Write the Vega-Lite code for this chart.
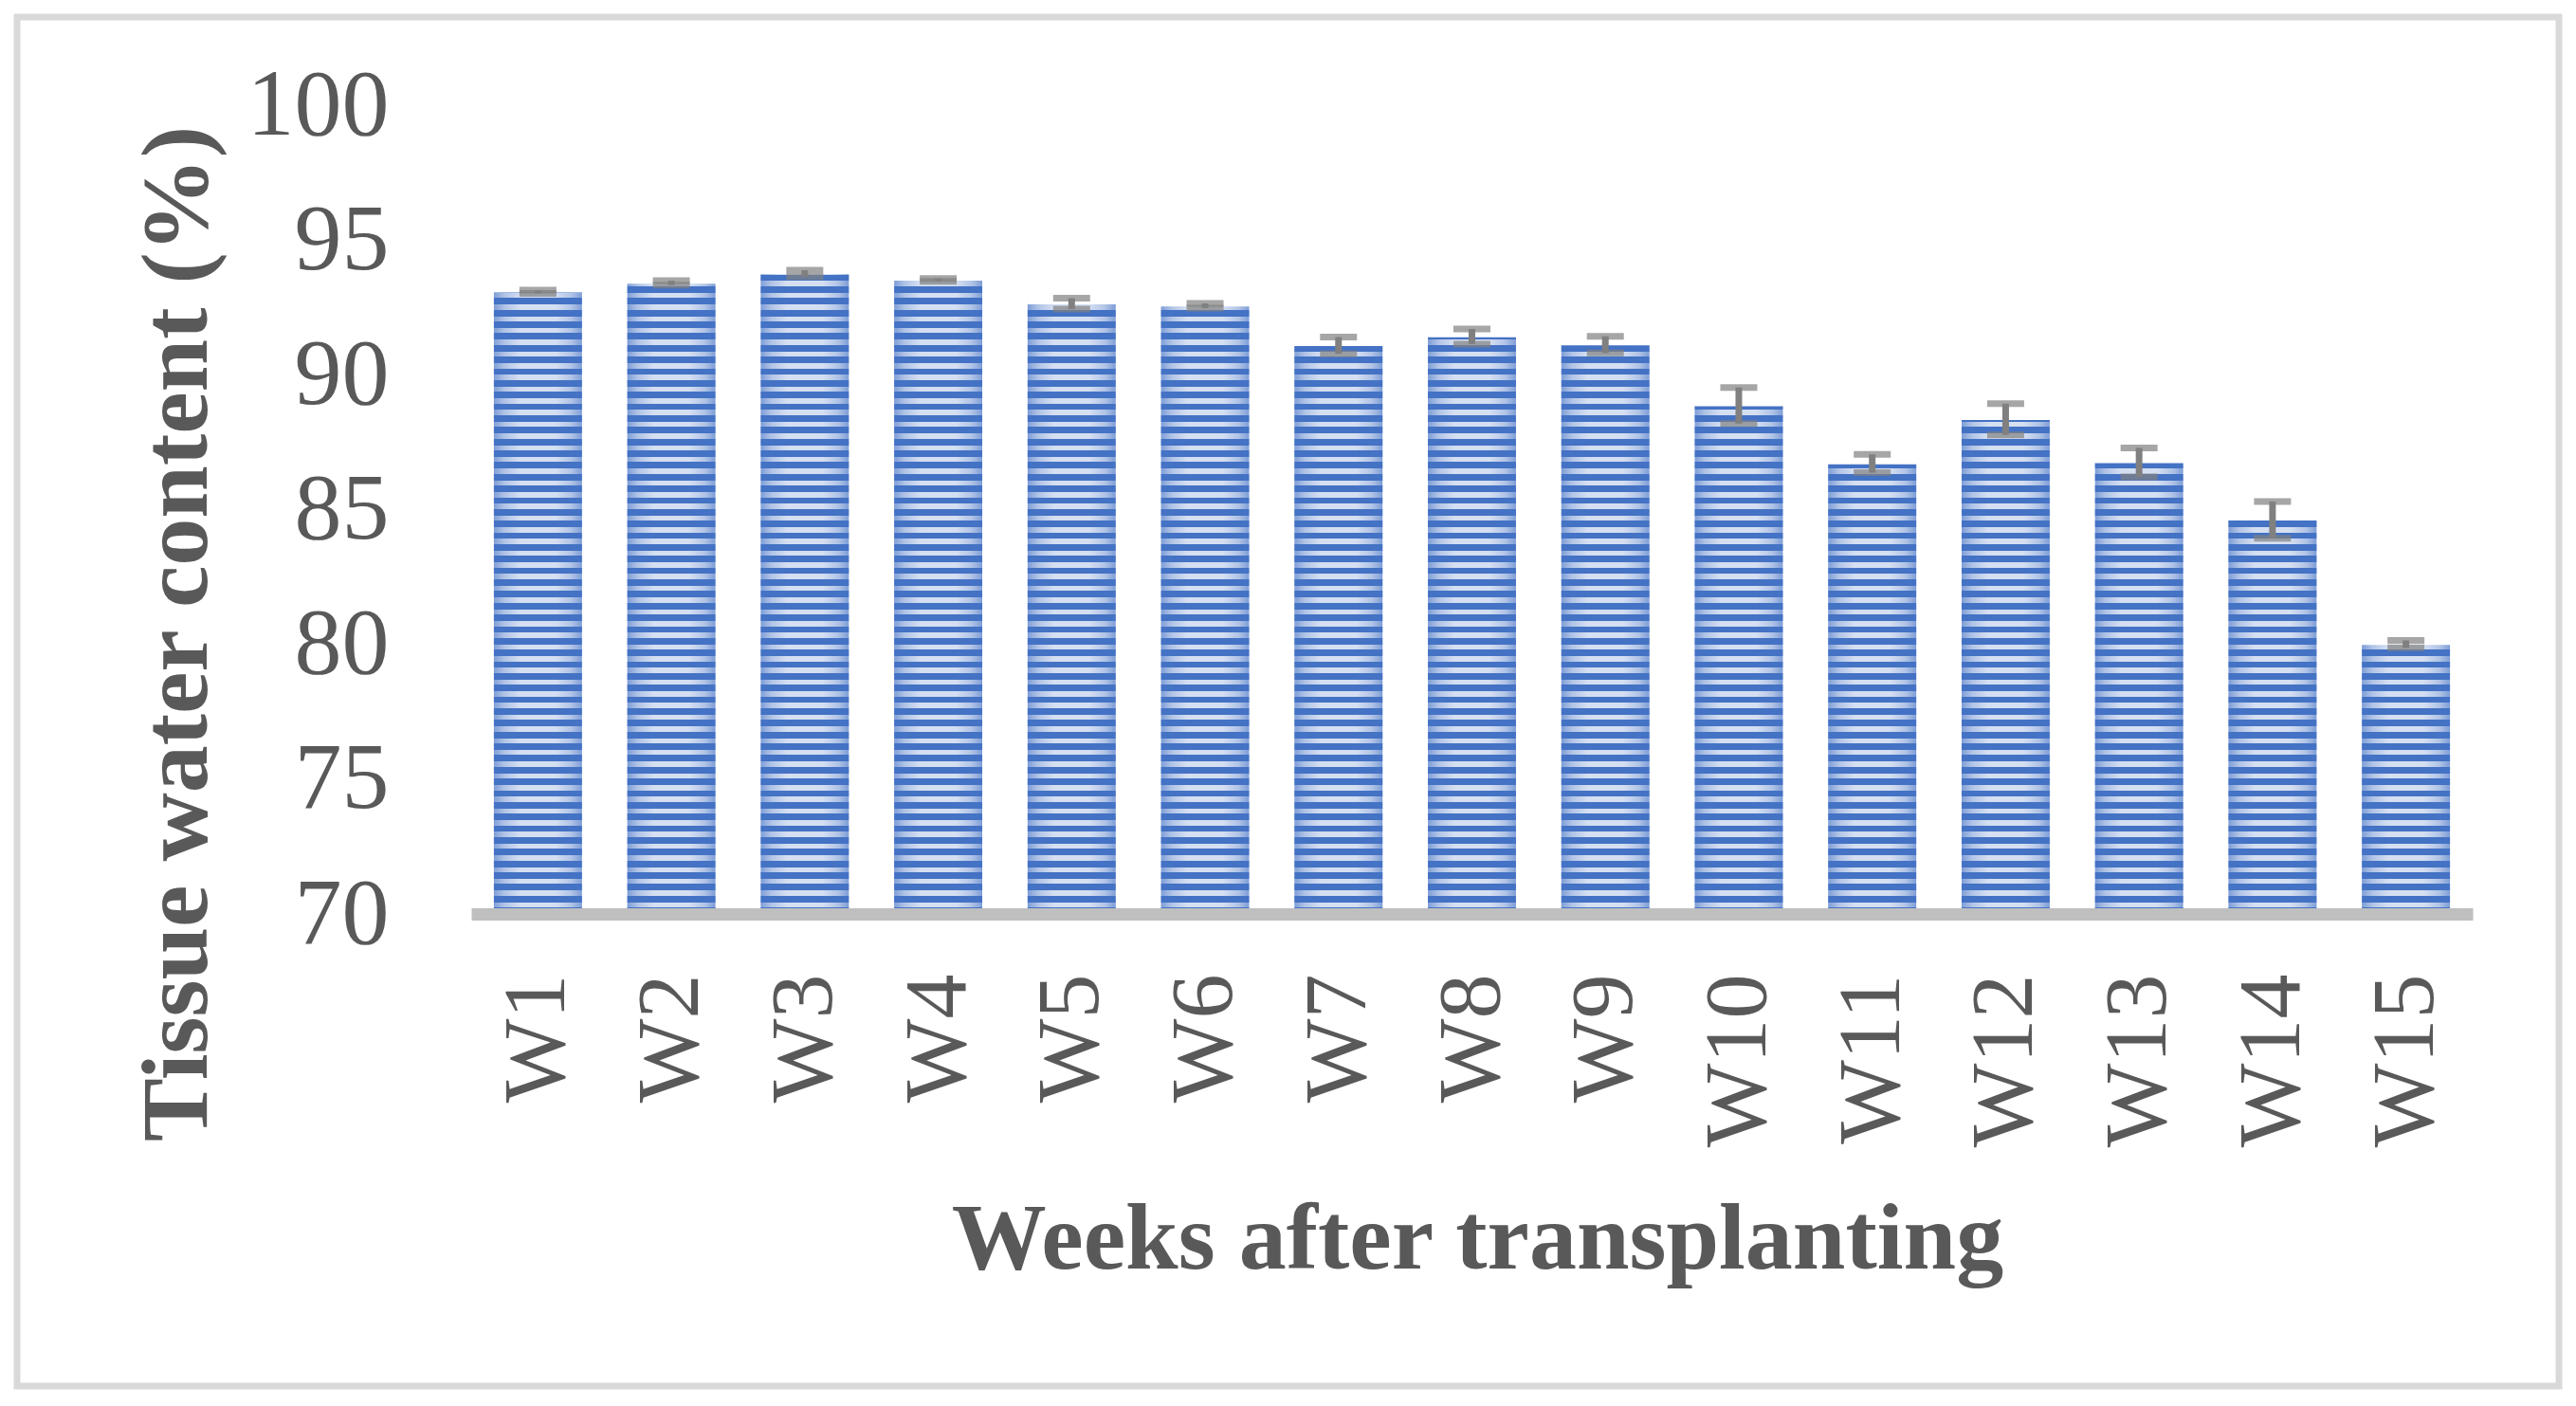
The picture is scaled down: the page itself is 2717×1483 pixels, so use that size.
{
  "$schema": "https://vega.github.io/schema/vega-lite/v6.json",
  "width": 2681,
  "height": 1444,
  "autosize": {"type": "none"},
  "padding": {"left": 18, "top": 18, "right": 18, "bottom": 21},
  "background": "white",
  "config": {
    "font": "Liberation Serif",
    "view": {"stroke": "#d9d9d9", "strokeWidth": 7}
  },
  "data": {
    "values": [
      {"week": "W1", "value": 93.08, "low": 93.02, "high": 93.14},
      {"week": "W2", "value": 93.41, "low": 93.33, "high": 93.49},
      {"week": "W3", "value": 93.76, "low": 93.64, "high": 93.88},
      {"week": "W4", "value": 93.52, "low": 93.47, "high": 93.57},
      {"week": "W5", "value": 92.64, "low": 92.44, "high": 92.84},
      {"week": "W6", "value": 92.56, "low": 92.47, "high": 92.65},
      {"week": "W7", "value": 91.09, "low": 90.78, "high": 91.40},
      {"week": "W8", "value": 91.42, "low": 91.14, "high": 91.70},
      {"week": "W9", "value": 91.12, "low": 90.81, "high": 91.43},
      {"week": "W10", "value": 88.86, "low": 88.19, "high": 89.53},
      {"week": "W11", "value": 86.71, "low": 86.37, "high": 87.05},
      {"week": "W12", "value": 88.35, "low": 87.77, "high": 88.93},
      {"week": "W13", "value": 86.75, "low": 86.21, "high": 87.29},
      {"week": "W14", "value": 84.62, "low": 83.94, "high": 85.30},
      {"week": "W15", "value": 80.01, "low": 79.87, "high": 80.15}
    ]
  },
  "encoding": {
    "x": {
      "field": "week",
      "type": "nominal",
      "sort": null,
      "scale": {"range": [479, 2590], "paddingInner": 0.34, "paddingOuter": 0.17},
      "axis": {
        "orient": "bottom",
        "offset": -498,
        "zindex": 1,
        "domain": true,
        "domainColor": "#bfbfbf",
        "domainWidth": 13,
        "ticks": false,
        "grid": false,
        "labelAngle": -90,
        "labelAlign": "right",
        "labelBaseline": "middle",
        "labelFont": "Liberation Serif",
        "labelFontSize": 94,
        "labelColor": "#595959",
        "labelPadding": 63,
        "labelLimit": 0,
        "labelOverlap": false,
        "title": "Weeks after transplanting",
        "titleFont": "Liberation Serif",
        "titleFontSize": 100,
        "titleFontWeight": "bold",
        "titleColor": "#595959",
        "titleBaseline": "alphabetic",
        "titleAlign": "center",
        "titleX": 1540,
        "titleY": 373
      }
    }
  },
  "layer": [
    {
      "mark": {
        "type": "bar",
        "color": {
          "gradient": "linear", "x1": 0, "y1": 0, "x2": 0, "y2": 1,
          "stops": [
            {"offset": 0, "color": "#d5dff2"}, {"offset": 0.006522, "color": "#d5dff2"}, {"offset": 0.006522, "color": "#4472c4"}, {"offset": 0.014493, "color": "#4472c4"},
            {"offset": 0.014493, "color": "#d5dff2"}, {"offset": 0.021015, "color": "#d5dff2"}, {"offset": 0.021015, "color": "#4472c4"}, {"offset": 0.028986, "color": "#4472c4"},
            {"offset": 0.028986, "color": "#d5dff2"}, {"offset": 0.035508, "color": "#d5dff2"}, {"offset": 0.035508, "color": "#4472c4"}, {"offset": 0.043478, "color": "#4472c4"},
            {"offset": 0.043478, "color": "#d5dff2"}, {"offset": 0.05, "color": "#d5dff2"}, {"offset": 0.05, "color": "#4472c4"}, {"offset": 0.057971, "color": "#4472c4"},
            {"offset": 0.057971, "color": "#d5dff2"}, {"offset": 0.064493, "color": "#d5dff2"}, {"offset": 0.064493, "color": "#4472c4"}, {"offset": 0.072464, "color": "#4472c4"},
            {"offset": 0.072464, "color": "#d5dff2"}, {"offset": 0.078986, "color": "#d5dff2"}, {"offset": 0.078986, "color": "#4472c4"}, {"offset": 0.086957, "color": "#4472c4"},
            {"offset": 0.086957, "color": "#d5dff2"}, {"offset": 0.093479, "color": "#d5dff2"}, {"offset": 0.093479, "color": "#4472c4"}, {"offset": 0.101449, "color": "#4472c4"},
            {"offset": 0.101449, "color": "#d5dff2"}, {"offset": 0.107971, "color": "#d5dff2"}, {"offset": 0.107971, "color": "#4472c4"}, {"offset": 0.115942, "color": "#4472c4"},
            {"offset": 0.115942, "color": "#d5dff2"}, {"offset": 0.122464, "color": "#d5dff2"}, {"offset": 0.122464, "color": "#4472c4"}, {"offset": 0.130435, "color": "#4472c4"},
            {"offset": 0.130435, "color": "#d5dff2"}, {"offset": 0.136957, "color": "#d5dff2"}, {"offset": 0.136957, "color": "#4472c4"}, {"offset": 0.144928, "color": "#4472c4"},
            {"offset": 0.144928, "color": "#d5dff2"}, {"offset": 0.15145, "color": "#d5dff2"}, {"offset": 0.15145, "color": "#4472c4"}, {"offset": 0.15942, "color": "#4472c4"},
            {"offset": 0.15942, "color": "#d5dff2"}, {"offset": 0.165942, "color": "#d5dff2"}, {"offset": 0.165942, "color": "#4472c4"}, {"offset": 0.173913, "color": "#4472c4"},
            {"offset": 0.173913, "color": "#d5dff2"}, {"offset": 0.180435, "color": "#d5dff2"}, {"offset": 0.180435, "color": "#4472c4"}, {"offset": 0.188406, "color": "#4472c4"},
            {"offset": 0.188406, "color": "#d5dff2"}, {"offset": 0.194928, "color": "#d5dff2"}, {"offset": 0.194928, "color": "#4472c4"}, {"offset": 0.202899, "color": "#4472c4"},
            {"offset": 0.202899, "color": "#d5dff2"}, {"offset": 0.209421, "color": "#d5dff2"}, {"offset": 0.209421, "color": "#4472c4"}, {"offset": 0.217391, "color": "#4472c4"},
            {"offset": 0.217391, "color": "#d5dff2"}, {"offset": 0.223913, "color": "#d5dff2"}, {"offset": 0.223913, "color": "#4472c4"}, {"offset": 0.231884, "color": "#4472c4"},
            {"offset": 0.231884, "color": "#d5dff2"}, {"offset": 0.238406, "color": "#d5dff2"}, {"offset": 0.238406, "color": "#4472c4"}, {"offset": 0.246377, "color": "#4472c4"},
            {"offset": 0.246377, "color": "#d5dff2"}, {"offset": 0.252899, "color": "#d5dff2"}, {"offset": 0.252899, "color": "#4472c4"}, {"offset": 0.26087, "color": "#4472c4"},
            {"offset": 0.26087, "color": "#d5dff2"}, {"offset": 0.267392, "color": "#d5dff2"}, {"offset": 0.267392, "color": "#4472c4"}, {"offset": 0.275362, "color": "#4472c4"},
            {"offset": 0.275362, "color": "#d5dff2"}, {"offset": 0.281884, "color": "#d5dff2"}, {"offset": 0.281884, "color": "#4472c4"}, {"offset": 0.289855, "color": "#4472c4"},
            {"offset": 0.289855, "color": "#d5dff2"}, {"offset": 0.296377, "color": "#d5dff2"}, {"offset": 0.296377, "color": "#4472c4"}, {"offset": 0.304348, "color": "#4472c4"},
            {"offset": 0.304348, "color": "#d5dff2"}, {"offset": 0.31087, "color": "#d5dff2"}, {"offset": 0.31087, "color": "#4472c4"}, {"offset": 0.318841, "color": "#4472c4"},
            {"offset": 0.318841, "color": "#d5dff2"}, {"offset": 0.325363, "color": "#d5dff2"}, {"offset": 0.325363, "color": "#4472c4"}, {"offset": 0.333333, "color": "#4472c4"},
            {"offset": 0.333333, "color": "#d5dff2"}, {"offset": 0.339855, "color": "#d5dff2"}, {"offset": 0.339855, "color": "#4472c4"}, {"offset": 0.347826, "color": "#4472c4"},
            {"offset": 0.347826, "color": "#d5dff2"}, {"offset": 0.354348, "color": "#d5dff2"}, {"offset": 0.354348, "color": "#4472c4"}, {"offset": 0.362319, "color": "#4472c4"},
            {"offset": 0.362319, "color": "#d5dff2"}, {"offset": 0.368841, "color": "#d5dff2"}, {"offset": 0.368841, "color": "#4472c4"}, {"offset": 0.376812, "color": "#4472c4"},
            {"offset": 0.376812, "color": "#d5dff2"}, {"offset": 0.383334, "color": "#d5dff2"}, {"offset": 0.383334, "color": "#4472c4"}, {"offset": 0.391304, "color": "#4472c4"},
            {"offset": 0.391304, "color": "#d5dff2"}, {"offset": 0.397826, "color": "#d5dff2"}, {"offset": 0.397826, "color": "#4472c4"}, {"offset": 0.405797, "color": "#4472c4"},
            {"offset": 0.405797, "color": "#d5dff2"}, {"offset": 0.412319, "color": "#d5dff2"}, {"offset": 0.412319, "color": "#4472c4"}, {"offset": 0.42029, "color": "#4472c4"},
            {"offset": 0.42029, "color": "#d5dff2"}, {"offset": 0.426812, "color": "#d5dff2"}, {"offset": 0.426812, "color": "#4472c4"}, {"offset": 0.434783, "color": "#4472c4"},
            {"offset": 0.434783, "color": "#d5dff2"}, {"offset": 0.441305, "color": "#d5dff2"}, {"offset": 0.441305, "color": "#4472c4"}, {"offset": 0.449275, "color": "#4472c4"},
            {"offset": 0.449275, "color": "#d5dff2"}, {"offset": 0.455797, "color": "#d5dff2"}, {"offset": 0.455797, "color": "#4472c4"}, {"offset": 0.463768, "color": "#4472c4"},
            {"offset": 0.463768, "color": "#d5dff2"}, {"offset": 0.47029, "color": "#d5dff2"}, {"offset": 0.47029, "color": "#4472c4"}, {"offset": 0.478261, "color": "#4472c4"},
            {"offset": 0.478261, "color": "#d5dff2"}, {"offset": 0.484783, "color": "#d5dff2"}, {"offset": 0.484783, "color": "#4472c4"}, {"offset": 0.492754, "color": "#4472c4"},
            {"offset": 0.492754, "color": "#d5dff2"}, {"offset": 0.499276, "color": "#d5dff2"}, {"offset": 0.499276, "color": "#4472c4"}, {"offset": 0.507246, "color": "#4472c4"},
            {"offset": 0.507246, "color": "#d5dff2"}, {"offset": 0.513768, "color": "#d5dff2"}, {"offset": 0.513768, "color": "#4472c4"}, {"offset": 0.521739, "color": "#4472c4"},
            {"offset": 0.521739, "color": "#d5dff2"}, {"offset": 0.528261, "color": "#d5dff2"}, {"offset": 0.528261, "color": "#4472c4"}, {"offset": 0.536232, "color": "#4472c4"},
            {"offset": 0.536232, "color": "#d5dff2"}, {"offset": 0.542754, "color": "#d5dff2"}, {"offset": 0.542754, "color": "#4472c4"}, {"offset": 0.550725, "color": "#4472c4"},
            {"offset": 0.550725, "color": "#d5dff2"}, {"offset": 0.557247, "color": "#d5dff2"}, {"offset": 0.557247, "color": "#4472c4"}, {"offset": 0.565217, "color": "#4472c4"},
            {"offset": 0.565217, "color": "#d5dff2"}, {"offset": 0.571739, "color": "#d5dff2"}, {"offset": 0.571739, "color": "#4472c4"}, {"offset": 0.57971, "color": "#4472c4"},
            {"offset": 0.57971, "color": "#d5dff2"}, {"offset": 0.586232, "color": "#d5dff2"}, {"offset": 0.586232, "color": "#4472c4"}, {"offset": 0.594203, "color": "#4472c4"},
            {"offset": 0.594203, "color": "#d5dff2"}, {"offset": 0.600725, "color": "#d5dff2"}, {"offset": 0.600725, "color": "#4472c4"}, {"offset": 0.608696, "color": "#4472c4"},
            {"offset": 0.608696, "color": "#d5dff2"}, {"offset": 0.615218, "color": "#d5dff2"}, {"offset": 0.615218, "color": "#4472c4"}, {"offset": 0.623188, "color": "#4472c4"},
            {"offset": 0.623188, "color": "#d5dff2"}, {"offset": 0.62971, "color": "#d5dff2"}, {"offset": 0.62971, "color": "#4472c4"}, {"offset": 0.637681, "color": "#4472c4"},
            {"offset": 0.637681, "color": "#d5dff2"}, {"offset": 0.644203, "color": "#d5dff2"}, {"offset": 0.644203, "color": "#4472c4"}, {"offset": 0.652174, "color": "#4472c4"},
            {"offset": 0.652174, "color": "#d5dff2"}, {"offset": 0.658696, "color": "#d5dff2"}, {"offset": 0.658696, "color": "#4472c4"}, {"offset": 0.666667, "color": "#4472c4"},
            {"offset": 0.666667, "color": "#d5dff2"}, {"offset": 0.673189, "color": "#d5dff2"}, {"offset": 0.673189, "color": "#4472c4"}, {"offset": 0.681159, "color": "#4472c4"},
            {"offset": 0.681159, "color": "#d5dff2"}, {"offset": 0.687681, "color": "#d5dff2"}, {"offset": 0.687681, "color": "#4472c4"}, {"offset": 0.695652, "color": "#4472c4"},
            {"offset": 0.695652, "color": "#d5dff2"}, {"offset": 0.702174, "color": "#d5dff2"}, {"offset": 0.702174, "color": "#4472c4"}, {"offset": 0.710145, "color": "#4472c4"},
            {"offset": 0.710145, "color": "#d5dff2"}, {"offset": 0.716667, "color": "#d5dff2"}, {"offset": 0.716667, "color": "#4472c4"}, {"offset": 0.724638, "color": "#4472c4"},
            {"offset": 0.724638, "color": "#d5dff2"}, {"offset": 0.73116, "color": "#d5dff2"}, {"offset": 0.73116, "color": "#4472c4"}, {"offset": 0.73913, "color": "#4472c4"},
            {"offset": 0.73913, "color": "#d5dff2"}, {"offset": 0.745652, "color": "#d5dff2"}, {"offset": 0.745652, "color": "#4472c4"}, {"offset": 0.753623, "color": "#4472c4"},
            {"offset": 0.753623, "color": "#d5dff2"}, {"offset": 0.760145, "color": "#d5dff2"}, {"offset": 0.760145, "color": "#4472c4"}, {"offset": 0.768116, "color": "#4472c4"},
            {"offset": 0.768116, "color": "#d5dff2"}, {"offset": 0.774638, "color": "#d5dff2"}, {"offset": 0.774638, "color": "#4472c4"}, {"offset": 0.782609, "color": "#4472c4"},
            {"offset": 0.782609, "color": "#d5dff2"}, {"offset": 0.789131, "color": "#d5dff2"}, {"offset": 0.789131, "color": "#4472c4"}, {"offset": 0.797101, "color": "#4472c4"},
            {"offset": 0.797101, "color": "#d5dff2"}, {"offset": 0.803623, "color": "#d5dff2"}, {"offset": 0.803623, "color": "#4472c4"}, {"offset": 0.811594, "color": "#4472c4"},
            {"offset": 0.811594, "color": "#d5dff2"}, {"offset": 0.818116, "color": "#d5dff2"}, {"offset": 0.818116, "color": "#4472c4"}, {"offset": 0.826087, "color": "#4472c4"},
            {"offset": 0.826087, "color": "#d5dff2"}, {"offset": 0.832609, "color": "#d5dff2"}, {"offset": 0.832609, "color": "#4472c4"}, {"offset": 0.84058, "color": "#4472c4"},
            {"offset": 0.84058, "color": "#d5dff2"}, {"offset": 0.847102, "color": "#d5dff2"}, {"offset": 0.847102, "color": "#4472c4"}, {"offset": 0.855072, "color": "#4472c4"},
            {"offset": 0.855072, "color": "#d5dff2"}, {"offset": 0.861594, "color": "#d5dff2"}, {"offset": 0.861594, "color": "#4472c4"}, {"offset": 0.869565, "color": "#4472c4"},
            {"offset": 0.869565, "color": "#d5dff2"}, {"offset": 0.876087, "color": "#d5dff2"}, {"offset": 0.876087, "color": "#4472c4"}, {"offset": 0.884058, "color": "#4472c4"},
            {"offset": 0.884058, "color": "#d5dff2"}, {"offset": 0.89058, "color": "#d5dff2"}, {"offset": 0.89058, "color": "#4472c4"}, {"offset": 0.898551, "color": "#4472c4"},
            {"offset": 0.898551, "color": "#d5dff2"}, {"offset": 0.905073, "color": "#d5dff2"}, {"offset": 0.905073, "color": "#4472c4"}, {"offset": 0.913043, "color": "#4472c4"},
            {"offset": 0.913043, "color": "#d5dff2"}, {"offset": 0.919565, "color": "#d5dff2"}, {"offset": 0.919565, "color": "#4472c4"}, {"offset": 0.927536, "color": "#4472c4"},
            {"offset": 0.927536, "color": "#d5dff2"}, {"offset": 0.934058, "color": "#d5dff2"}, {"offset": 0.934058, "color": "#4472c4"}, {"offset": 0.942029, "color": "#4472c4"},
            {"offset": 0.942029, "color": "#d5dff2"}, {"offset": 0.948551, "color": "#d5dff2"}, {"offset": 0.948551, "color": "#4472c4"}, {"offset": 0.956522, "color": "#4472c4"},
            {"offset": 0.956522, "color": "#d5dff2"}, {"offset": 0.963044, "color": "#d5dff2"}, {"offset": 0.963044, "color": "#4472c4"}, {"offset": 0.971014, "color": "#4472c4"},
            {"offset": 0.971014, "color": "#d5dff2"}, {"offset": 0.977536, "color": "#d5dff2"}, {"offset": 0.977536, "color": "#4472c4"}, {"offset": 0.985507, "color": "#4472c4"},
            {"offset": 0.985507, "color": "#d5dff2"}, {"offset": 0.992029, "color": "#d5dff2"}, {"offset": 0.992029, "color": "#4472c4"}, {"offset": 1, "color": "#4472c4"}
          ]
        }
      },
      "encoding": {
        "y": {
          "datum": 70,
          "type": "quantitative",
          "scale": {"domain": [70, 100], "range": [946, 93], "nice": false, "zero": false},
          "axis": {
            "orient": "left",
            "offset": -479,
            "values": [70, 75, 80, 85, 90, 95, 100],
            "domain": false,
            "ticks": false,
            "grid": false,
            "labelFont": "Liberation Serif",
            "labelFontSize": 100,
            "labelColor": "#595959",
            "labelPadding": 87,
            "title": "Tissue water content (%)",
            "titleFont": "Liberation Serif",
            "titleFontSize": 100,
            "titleFontWeight": "bold",
            "titleColor": "#595959",
            "titleAngle": -90,
            "titleAlign": "center",
            "titleBaseline": "alphabetic",
            "titleX": -280,
            "titleY": 650
          }
        },
        "y2": {"datum": 100}
      }
    },
    {
      "mark": {
        "type": "bar",
        "color": {
          "gradient": "linear", "x1": 0, "y1": 0, "x2": 1, "y2": 0,
          "stops": [
            {"offset": 0, "color": "rgba(68,114,196,0.6)"},
            {"offset": 0.12, "color": "rgba(68,114,196,0.25)"},
            {"offset": 0.3, "color": "rgba(68,114,196,0)"},
            {"offset": 0.7, "color": "rgba(68,114,196,0)"},
            {"offset": 0.88, "color": "rgba(68,114,196,0.25)"},
            {"offset": 1, "color": "rgba(68,114,196,0.6)"}
          ]
        }
      },
      "encoding": {
        "y": {"datum": 70, "type": "quantitative"},
        "y2": {"datum": 100}
      }
    },
    {
      "mark": {"type": "bar", "color": "white", "stroke": "white", "strokeWidth": 1.5},
      "encoding": {
        "y": {"field": "value", "type": "quantitative"},
        "y2": {"datum": 100}
      }
    },
    {
      "mark": {"type": "rule", "color": "#808080", "strokeWidth": 7},
      "encoding": {
        "y": {"field": "low", "type": "quantitative"},
        "y2": {"field": "high"}
      }
    },
    {
      "mark": {"type": "tick", "color": "#808080", "size": 39, "thickness": 7, "orient": "horizontal"},
      "encoding": {
        "y": {"field": "low", "type": "quantitative"}
      }
    },
    {
      "mark": {"type": "tick", "color": "#808080", "size": 39, "thickness": 7, "orient": "horizontal"},
      "encoding": {
        "y": {"field": "high", "type": "quantitative"}
      }
    }
  ]
}
